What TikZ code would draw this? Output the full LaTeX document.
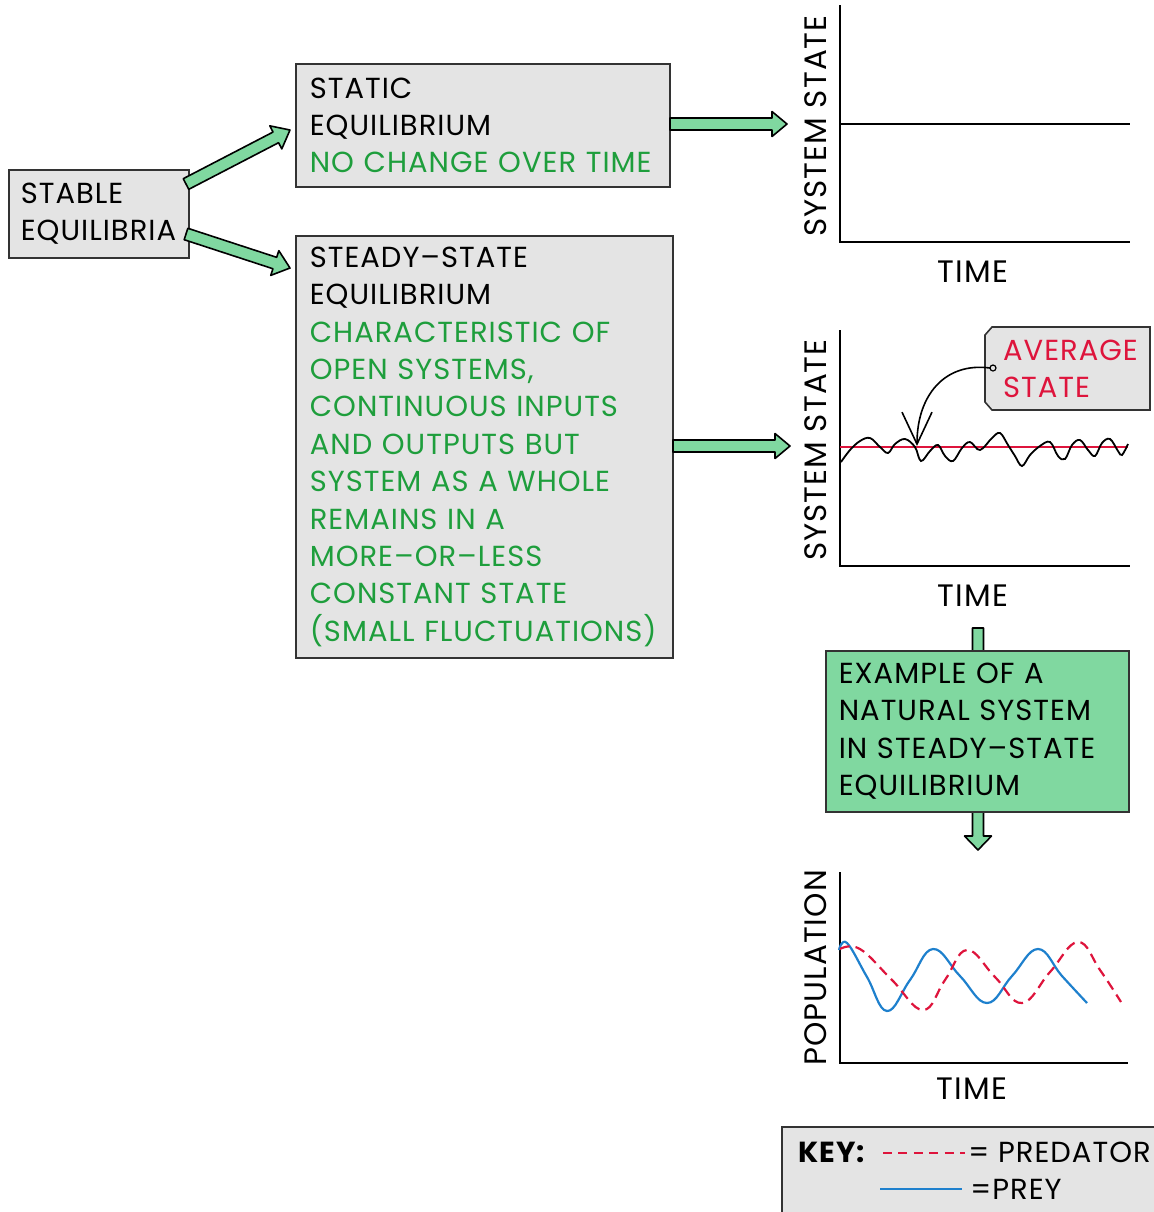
\documentclass[tikz,border=0pt]{standalone}
\usepackage{fontspec}
\setmainfont[LetterSpace=3.5]{Poppins}
\usetikzlibrary{calc,arrows.meta}
\definecolor{grn}{RGB}{30,158,60}
\definecolor{gfill}{RGB}{128,216,160}
\definecolor{grayfill}{RGB}{228,228,228}
\definecolor{rd}{RGB}{222,20,60}
\definecolor{bl}{RGB}{30,128,205}
\newcommand{\fatarr}[5]{%
  \coordinate (fa-h) at ($(#2)!#5!(#1)$);
  \filldraw[fatstyle] ($(#1)!#3!90:(#2)$) -- ($(fa-h)!#3!90:(#2)$) -- ($(fa-h)!#4!90:(#2)$) -- (#2) -- ($(fa-h)!#4!-90:(#2)$) -- ($(fa-h)!#3!-90:(#2)$) -- ($(#1)!#3!-90:(#2)$) -- cycle;}
\tikzset{
  fatstyle/.style={fill=gfill, draw=black, line width=0.8pt, line join=round},
  box/.style={draw=black!80, fill=grayfill, line width=0.8pt, align=left, anchor=north west, inner ysep=0pt},
  txt/.style={font=\fontsize{14.5}{18.7}\selectfont},
  axlabel/.style={font=\fontsize{15.5}{18}\selectfont},
  axis/.style={line width=1pt, black},
}
\begin{document}
\begin{tikzpicture}[x=0.5pt, y=-0.5pt, txt]
\useasboundingbox (0,0) rectangle (1154,1212);
% boxes
\node[box, inner xsep=6pt, text width=78pt, minimum height=44pt] (stable) at (8,169) {STABLE\\EQUILIBRIA};
\node[box, inner xsep=7pt, text width=173pt, minimum height=61.5pt] (static) at (295,63) {STATIC\\EQUILIBRIUM\\\textcolor{grn}{NO CHANGE OVER TIME}};
\node[box, inner xsep=7pt, text width=174.5pt, minimum height=211pt] (steady) at (295,235) {STEADY–STATE\\EQUILIBRIUM\\\color{grn}CHARACTERISTIC OF\\OPEN SYSTEMS,\\CONTINUOUS INPUTS\\AND OUTPUTS BUT\\SYSTEM AS A WHOLE\\REMAINS IN A\\MORE–OR–LESS\\CONSTANT STATE\\(SMALL FLUCTUATIONS)};
% arrows from stable
\coordinate (s1) at (186,184);
\coordinate (t1) at (290,130);
\coordinate (s2) at (186,234);
\coordinate (t2) at (290,268);
\fatarr{s1}{t1}{3pt}{6.5pt}{8pt}
\fatarr{s2}{t2}{3pt}{6.5pt}{8pt}
\coordinate (s3) at (670,124);
\coordinate (t3) at (787,124);
\fatarr{s3}{t3}{3pt}{6.25pt}{7.5pt}
\coordinate (s4) at (673,446);
\coordinate (t4) at (790,446);
\fatarr{s4}{t4}{3pt}{6.25pt}{7.5pt}
% graph 1
\coordinate (g1o) at (840,242);
\draw[axis] (840,5) -- (g1o) -- (1130,242);
\draw[line width=0.8pt] (840,124) -- (1130,124);
\node[rotate=90, axlabel] (g1y) at (816,126) {SYSTEM STATE};
\node[axlabel] (g1x) at (973,272) {TIME};
% graph 2
\coordinate (g2o) at (840,566);
\draw[axis] (840,330) -- (g2o) -- (1130,566);
\draw[rd, line width=1pt] (840,447) -- (1128,447);
\draw[line width=0.9pt] plot[smooth, tension=0.6] coordinates {(841,462) (850,450) (860,441) (870,438) (880,447) (888,453) (895,444) (905,439) (915,447) (921,461) (930,451) (938,445) (945,456) (953,461) (962,448) (970,442) (980,450) (992,438) (1000,433) (1008,445) (1015,456) (1022,466) (1030,455) (1040,446) (1050,442) (1058,456) (1065,459) (1072,445) (1080,440) (1088,450) (1095,456) (1102,443) (1110,439) (1118,451) (1122,455) (1128,444)};
\node[rotate=90, axlabel] (g2y) at (816,450) {SYSTEM STATE};
\node[axlabel] (g2x) at (973,596) {TIME};
% average state tag
\draw[draw=black!80, fill=grayfill, line width=0.8pt] (992,327) -- (1150,327) -- (1150,410) -- (992,410) -- (985,402) -- (985,335) -- cycle;
\node[align=left, anchor=west, text=rd] (avg) at (996,369) {AVERAGE\\STATE};
\draw[line width=0.6pt] (993,368) circle (3);
\coordinate (hole) at (990,368);
\coordinate (tip) at (917,446);
\draw[line width=0.8pt, -{Straight Barb[length=16pt, width=15pt]}] (hole) .. controls (945,362) and (917,395) .. (tip);
% example box and arrow
\coordinate (s5) at (978,628);
\coordinate (t5) at (978,850);
\fatarr{s5}{t5}{2.75pt}{6.75pt}{7pt}
\node[box, fill=gfill, inner xsep=6.5pt, text width=138.5pt, minimum height=80.5pt] (example) at (825,650) {EXAMPLE OF A\\NATURAL SYSTEM\\IN STEADY–STATE\\EQUILIBRIUM};
% graph 3
\coordinate (g3o) at (840,1063);
\draw[axis] (840,872) -- (g3o) -- (1128,1063);
\draw[bl, line width=1.1pt] plot[smooth, tension=0.7] coordinates {(839,950) (847,943) (867,977) (887,1011) (910,980) (933,949) (960,976) (987,1003) (1012,976) (1038,949) (1062,976) (1087,1003)};
\draw[rd, line width=1.1pt, dash pattern=on 5pt off 3pt] plot[smooth, tension=0.7] coordinates {(840,949) (860,949) (892,980) (923,1010) (945,980) (967,950) (995,977) (1022,1003) (1050,972) (1078,942) (1100,970) (1121,1002)};
\node[rotate=90, axlabel] (g3y) at (816,968) {POPULATION};
\node[axlabel] (g3x) at (972,1089) {TIME};
% key
\node[box, inner sep=0pt, minimum width=190pt, minimum height=45pt] (key) at (781,1126) {};
\node[anchor=west, font=\fontsize{14.5}{18.7}\selectfont\bfseries] (keyl) at (791,1152) {KEY:};
\coordinate (k1a) at (883,1153);
\coordinate (k1b) at (965,1153);
\draw[rd, line width=1pt, dash pattern=on 4.5pt off 3.2pt] (k1a) -- (k1b);
\node[anchor=west, inner sep=0pt] (kpred) at (968,1152) {= PREDATOR};
\coordinate (k2a) at (880,1189);
\coordinate (k2b) at (962,1189);
\draw[bl, line width=1pt] (k2a) -- (k2b);
\node[anchor=west, inner sep=0pt] (kprey) at (970,1189) {=PREY};
\end{tikzpicture}
\end{document}
